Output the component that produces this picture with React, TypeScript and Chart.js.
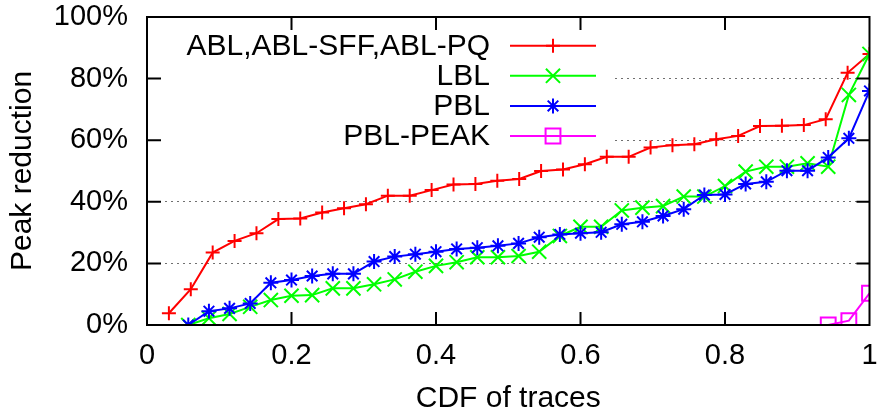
import React, { useEffect, useRef } from 'react';
import { Chart, registerables } from 'chart.js';

Chart.register(...registerables);

// ---- Data ----
const seriesNames = ['ABL,ABL-SFF,ABL-PQ', 'LBL', 'PBL', 'PBL-PEAK'];
const seriesColors = ['#ff0000', '#00ff00', '#0000ff', '#ff00ff'];

// ABL: 33 traces, ranks 1..33
const ablCount = 33;
const ablFirstRank = 1;
const ablValues = [
  3.8, 11.6, 23.5, 27.3, 29.8, 34.4, 34.6, 36.5, 37.9, 39.2, 42.0, 42.0, 43.8,
  45.6, 45.8, 46.8, 47.4, 50.0, 50.5, 52.2, 54.6, 54.6, 57.6, 58.4, 58.7, 60.3,
  61.4, 64.6, 64.7, 64.9, 66.8, 81.9, 88.0,
];

// LBL: 35 traces, ranks 2..35
const lblCount = 35;
const lblFirstRank = 2;
const lblValues = [
  0, 2.2, 3.6, 5.9, 8.1, 9.5, 9.7, 11.9, 11.9, 13.2, 14.8, 17.3, 19.2, 20.4,
  22.0, 22.0, 22.4, 23.8, 28.9, 31.9, 31.9, 37.2, 38.1, 38.6, 41.7, 41.7, 45.1,
  49.8, 51.4, 51.4, 52.5, 51.4, 74.7, 88.0,
];

// PBL: 35 traces, ranks 2..35
const pblCount = 35;
const pblFirstRank = 2;
const pblValues = [
  0, 4.5, 5.4, 7.0, 13.7, 14.6, 15.9, 16.6, 16.6, 20.6, 22.2, 23.0, 23.8, 24.7,
  25.1, 25.7, 26.5, 28.5, 29.4, 29.8, 30.1, 32.7, 33.5, 35.4, 37.6, 42.2, 42.4,
  45.8, 46.5, 50.1, 50.1, 54.4, 60.6, 76.0,
];

// PBL-PEAK: 35 traces, ranks 33..35
const peakCount = 35;
const peakFirstRank = 33;
const peakValues = [0, 1.4, 10.3];

const xTickValues = [0, 0.2, 0.4, 0.6, 0.8, 1];
const yTickValues = [0, 20, 40, 60, 80, 100];

const FONT = '"Liberation Sans", Arial, Helvetica, sans-serif';

function toPoints(values: number[], count: number, firstRank: number) {
  return values.map((v, i) => ({ x: (firstRank + i) / count, y: v }));
}

type Marker = 'cross' | 'crossRot' | 'star' | 'rect';

function drawMarker(ctx: CanvasRenderingContext2D, style: Marker, x: number, y: number, r: number) {
  ctx.beginPath();
  if (style === 'cross' || style === 'star') {
    ctx.moveTo(x - r, y);
    ctx.lineTo(x + r, y);
    ctx.moveTo(x, y - r);
    ctx.lineTo(x, y + r);
  }
  if (style === 'crossRot' || style === 'star') {
    const d = r * Math.SQRT1_2;
    ctx.moveTo(x - d, y - d);
    ctx.lineTo(x + d, y + d);
    ctx.moveTo(x - d, y + d);
    ctx.lineTo(x + d, y - d);
  }
  if (style === 'rect') {
    const s = r * Math.SQRT1_2;
    ctx.rect(x - s, y - s, 2 * s, 2 * s);
  }
  ctx.stroke();
}

const markerStyles: Marker[] = ['cross', 'crossRot', 'star', 'rect'];
const markerRadii = [7, 10, 7.5, 10.5];

const gnuplotFrame = {
  id: 'gnuplotFrame',
  beforeDatasetsDraw(chart: any) {
    const { ctx, chartArea } = chart;
    // opaque key box that hides the grid behind it
    ctx.save();
    ctx.fillStyle = '#ffffff';
    ctx.fillRect(chartArea.left + 1, chartArea.top + 1, 611 - chartArea.left, 152 - chartArea.top);
    ctx.restore();
  },
  afterDatasetsDraw(chart: any) {
    const { ctx, chartArea, scales } = chart;
    const { left, right, top, bottom } = chartArea;
    ctx.save();
    // key
    ctx.font = `30px ${FONT}`;
    ctx.textAlign = 'right';
    ctx.textBaseline = 'middle';
    const rowY = [45.7, 75.8, 105.9, 136];
    seriesNames.forEach((name, i) => {
      const y = rowY[i];
      ctx.fillStyle = '#000';
      ctx.fillText(name, 490, y + 1);
      ctx.strokeStyle = seriesColors[i];
      ctx.lineWidth = 2;
      ctx.beginPath();
      ctx.moveTo(510, y);
      ctx.lineTo(596, y);
      ctx.stroke();
      drawMarker(ctx, markerStyles[i], 553, y, markerRadii[i]);
    });

    // border
    ctx.strokeStyle = '#000';
    ctx.lineWidth = 2;
    ctx.strokeRect(left, top, right - left, bottom - top);
    // inward ticks
    ctx.lineWidth = 2;
    ctx.beginPath();
    xTickValues.slice(1, -1).forEach((v) => {
      const px = scales.x.getPixelForValue(v);
      ctx.moveTo(px, bottom);
      ctx.lineTo(px, bottom - 13);
      ctx.moveTo(px, top);
      ctx.lineTo(px, top + 13);
    });
    yTickValues.slice(1, -1).forEach((v) => {
      const py = scales.y.getPixelForValue(v);
      ctx.moveTo(left, py);
      ctx.lineTo(left + 14, py);
      ctx.moveTo(right, py);
      ctx.lineTo(right - 13, py);
    });
    ctx.stroke();
    ctx.restore();
  },
};

export default function App() {
  const canvasRef = useRef<HTMLCanvasElement | null>(null);

  useEffect(() => {
    const canvas = canvasRef.current;
    if (!canvas) return;

    const seriesData = [
      toPoints(ablValues, ablCount, ablFirstRank),
      toPoints(lblValues, lblCount, lblFirstRank),
      toPoints(pblValues, pblCount, pblFirstRank),
      toPoints(peakValues, peakCount, peakFirstRank),
    ];

    const chart = new Chart(canvas, {
      type: 'line',
      data: {
        datasets: seriesData.map((data, i) => ({
          label: seriesNames[i],
          data,
          borderColor: seriesColors[i],
          backgroundColor: 'transparent',
          borderWidth: 2,
          pointStyle: markerStyles[i],
          pointRadius: markerRadii[i],
          pointBorderWidth: 2,
          pointBorderColor: seriesColors[i],
          pointBackgroundColor: 'transparent',
          tension: 0,
          fill: false,
          order: 3 - i,
        })),
      },
      options: {
        animation: false,
        responsive: false,
        devicePixelRatio: 1,
        events: [],
        layout: { padding: { top: 17, right: 8, left: 0, bottom: 0 } },
        plugins: {
          legend: { display: false },
          tooltip: { enabled: false },
        },
        scales: {
          x: {
            type: 'linear',
            min: 0,
            max: 1,
            afterFit: (scale: any) => {
              scale.height = 89;
              scale.paddingLeft = 0;
              scale.paddingRight = 0;
              scale.paddingTop = 0;
              scale.paddingBottom = 0;
            },
            afterBuildTicks: (scale: any) => {
              scale.ticks = xTickValues.map((v) => ({ value: v }));
            },
            grid: { display: false, drawTicks: false },
            border: { display: false },
            ticks: {
              color: '#000',
              padding: 14,
              maxRotation: 0,
              font: { family: FONT, size: 29 },
              callback: (v: any) => String(Math.round(Number(v) * 10) / 10),
            },
            title: {
              display: true,
              text: 'CDF of traces',
              color: '#000',
              font: { family: FONT, size: 30 },
              padding: { top: 0, bottom: -3 },
            },
          },
          y: {
            type: 'linear',
            min: 0,
            max: 100,
            afterFit: (scale: any) => {
              scale.width = 147;
              scale.paddingLeft = 0;
              scale.paddingRight = 0;
              scale.paddingTop = 0;
              scale.paddingBottom = 0;
            },
            afterBuildTicks: (scale: any) => {
              scale.ticks = yTickValues.map((v) => ({ value: v }));
            },
            grid: {
              display: true,
              drawTicks: false,
              color: '#707070',
              lineWidth: 1,
            },
            border: { display: false, dash: [2, 4] },
            ticks: {
              color: '#000',
              padding: 19,
              font: { family: FONT, size: 29 },
              callback: (v: any) => `${v}%`,
            },
            title: {
              display: true,
              text: 'Peak reduction',
              color: '#000',
              font: { family: FONT, size: 30 },
              padding: { top: 5, bottom: 0 },
            },
          },
        },
      },
      plugins: [gnuplotFrame],
    });

    return () => {
      chart.destroy();
    };
  }, []);

  return (
    <div style={{ position: 'absolute', left: 0, top: 0, width: 882, height: 414, background: '#fff' }}>
      <canvas ref={canvasRef} width={882} height={414} style={{ width: 882, height: 414, display: 'block' }} />
    </div>
  );
}
